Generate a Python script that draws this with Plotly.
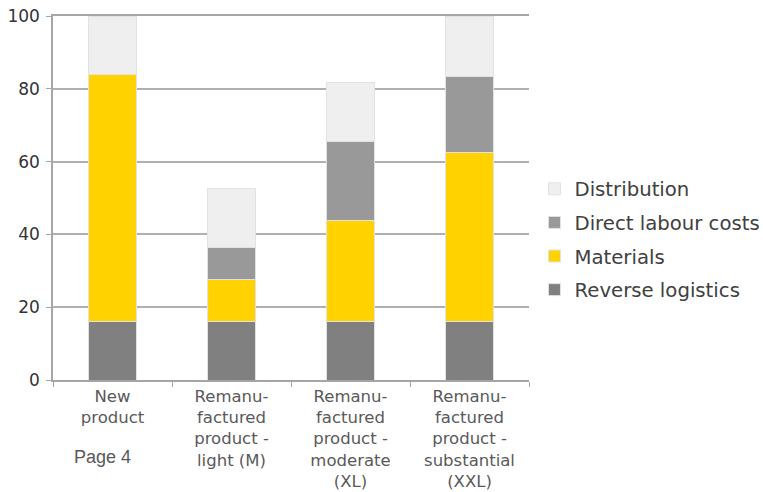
import plotly.graph_objects as go

categories = [
    "New<br>product",
    "Remanu-<br>factured<br>product -<br>light (M)",
    "Remanu-<br>factured<br>product -<br>moderate<br>(XL)",
    "Remanu-<br>factured<br>product -<br>substantial<br>(XXL)",
]
reverse_logistics = [16, 16, 16, 16]
materials = [68, 11.7, 27.9, 46.6]
direct_labour = [0, 8.6, 21.5, 20.9]
distribution = [16, 16.2, 16.2, 16.5]

series = [
    ("Reverse logistics", reverse_logistics, "#808080"),
    ("Materials", materials, "#FFD200"),
    ("Direct labour costs", direct_labour, "#999999"),
    ("Distribution", distribution, "#EFEFEF"),
]

fig = go.Figure()
for i, (name, vals, col) in enumerate(series):
    fig.add_trace(go.Bar(x=categories, y=vals, name=name, legendgroup=name,
                         legendrank=1000 - i,
                         marker=dict(color=col, line=dict(color="#E2E2E2", width=1))))

fig.add_annotation(text="Page 4", xref="paper", yref="paper", x=0.04, y=-0.211,
                   showarrow=False, xanchor="left", yanchor="middle",
                   font=dict(family="Liberation Sans", size=18, color="#595959"))

fig.update_layout(
    barmode="stack",
    bargap=0.6,
    width=763, height=492,
    margin=dict(l=53, r=234, t=16, b=112, autoexpand=False),
    plot_bgcolor="white", paper_bgcolor="white",
    font=dict(family="DejaVu Sans", color="#404040"),
    legend=dict(traceorder="grouped", xref="container", x=0.7005, y=0.386,
                xanchor="left", yanchor="middle",
                font=dict(size=19.7, color="#404040"), tracegroupgap=5),
    xaxis=dict(showline=True, linecolor="#A6A6A6", linewidth=1.5, mirror=True, ticks="outside",
               tickson="boundaries", tickcolor="#A6A6A6", ticklen=5, automargin=False,
               tickfont=dict(size=16.5, color="#595959")),
    yaxis=dict(range=[0, 100], dtick=20, showgrid=True, gridcolor="#B0B0B0", gridwidth=1.5,
               showline=True, linecolor="#A6A6A6", linewidth=1.5, ticks="outside",
               tickcolor="#A6A6A6", ticklen=5, zeroline=False, automargin=False,
               ticklabeloverflow="allow", ticklabelstandoff=3,
               tickfont=dict(size=17, color="#333333")),
)

# drop the default 8px body margin so the figure sits flush in the window
fig.write_html("out.html", config={"displayModeBar": False},
               post_script="document.body.style.margin='0';document.body.style.overflow='hidden';")
